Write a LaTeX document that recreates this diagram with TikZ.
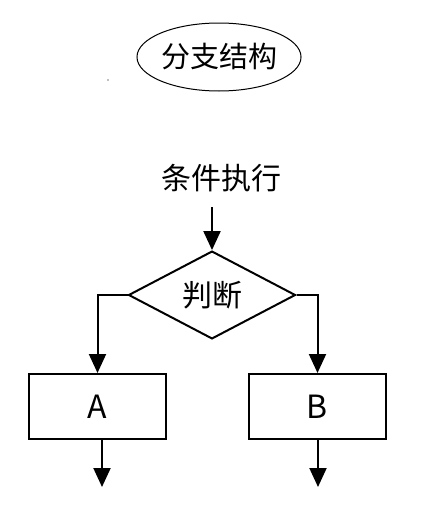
\documentclass[tikz,border=0pt]{standalone}
\usepackage{fontspec}
\setmainfont{Noto Sans CJK SC}
\usetikzlibrary{shapes.geometric,arrows.meta}
\begin{document}
\begin{tikzpicture}[x=1pt,y=-1pt,
  arr/.style={line width=2pt,-{Triangle[length=19pt,width=17pt]}},
  lbl/.style={font=\fontsize{30}{30}\selectfont,inner sep=0pt},
  boxst/.style={draw,line width=2pt,minimum width=137pt,minimum height=65pt,inner sep=0pt,font=\fontsize{32}{32}\selectfont},
  diast/.style={draw,diamond,line width=2pt,minimum width=167pt,minimum height=78pt,inner sep=0pt,font=\fontsize{30}{30}\selectfont}]
\useasboundingbox (0,0) rectangle (433,514);
\node[draw,ellipse,line width=1pt,minimum width=138pt,minimum height=68pt,inner sep=0pt,font=\fontsize{29}{29}\selectfont] (title) at (219,57) {分支结构};
\fill[gray] (108,80) circle (0.8pt);
\node[lbl] (cond) at (221,178) {条件执行};
\coordinate (c1) at (212,207);
\node[diast] (dia) at (212,295) {判断};
\node[boxst] (A) at (97.5,406.5) {A};
\node[boxst] (B) at (317.5,406.5) {B};
\coordinate (aend) at (102,487);
\coordinate (bend) at (318,487);
\draw[arr] (c1) -- (dia.north);
\draw[arr] (dia.west) -| (A.north);
\draw[arr] (dia.east) -| (B.north);
\draw[arr] (A.south -| aend) -- (aend);
\draw[arr] (B.south -| bend) -- (bend);
\end{tikzpicture}
\end{document}
